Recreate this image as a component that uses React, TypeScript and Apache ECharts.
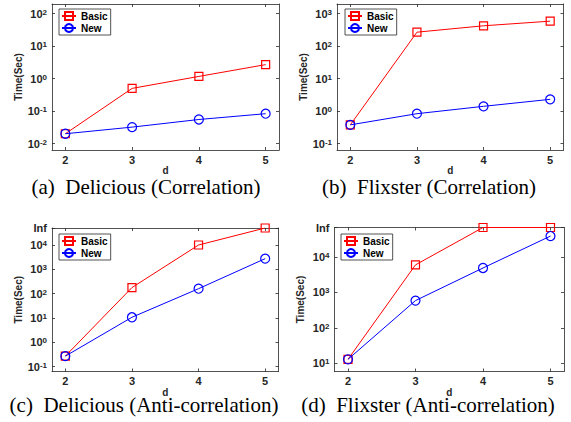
import React, { useEffect, useRef } from "react";
import * as echarts from "echarts";

// ---- data ----
const dValues = [2, 3, 4, 5];

const deliciousCorrBasic = [0.02, 0.5, 1.17, 2.7];
const deliciousCorrNew = [0.02, 0.032, 0.055, 0.083];

const flixsterCorrBasic = [0.376, 270, 425, 590];
const flixsterCorrNew = [0.376, 0.83, 1.4, 2.3];

// "Inf" is drawn at the top of the axis (placeholder value)
const INF_DELICIOUS = 50000;
const INF_FLIXSTER = 68000;

const deliciousAntiBasic = [0.27, 178, 10000, INF_DELICIOUS];
const deliciousAntiNew = [0.27, 10.7, 160, 2750];

const flixsterAntiBasic = [13, 6000, INF_FLIXSTER, INF_FLIXSTER];
const flixsterAntiNew = [13, 590, 4900, 39000];

const exponentsA = [-2, -1, 0, 1, 2];
const exponentsB = [-1, 0, 1, 2, 3];
const exponentsC = [-1, 0, 1, 2, 3, 4];
const exponentsD = [1, 2, 3, 4];

const captions = [
  "(a)\u2002Delicious (Correlation)",
  "(b)\u2002Flixster (Correlation)",
  "(c)\u2002Delicious (Anti-correlation)",
  "(d)\u2002Flixster (Anti-correlation)",
];

const seriesNames = ["Basic", "New"];
const xName = "d";
const yName = "Time(Sec)";

const RED = "#ff0000";
const BLUE = "#0000ff";
const AXIS = "#262626";
const SANS = "Liberation Sans";
const SERIF = "Liberation Serif";

type Panel = {
  basic: number[];
  fresh: number[];
  exps: number[];
  inf: number | null;
  yMin: number;
  yMax: number;
  grid: { left: number; top: number; width: number; height: number };
  legend: { left: number; top: number };
  caption: string;
  capX: number;
  capY: number;
  capSpacing: number;
};

const panels: Panel[] = [
  {
    basic: deliciousCorrBasic,
    fresh: deliciousCorrNew,
    exps: exponentsA,
    inf: null,
    yMin: -2.2,
    yMax: 2.3,
    grid: { left: 52, top: 4, width: 227, height: 146 },
    legend: { left: 59, top: 9 },
    caption: captions[0],
    capX: 146,
    capY: 187,
    capSpacing: 0,
  },
  {
    basic: flixsterCorrBasic,
    fresh: flixsterCorrNew,
    exps: exponentsB,
    inf: null,
    yMin: -1.2,
    yMax: 3.3,
    grid: { left: 337, top: 4, width: 226.5, height: 146 },
    legend: { left: 345, top: 9 },
    caption: captions[1],
    capX: 429,
    capY: 187,
    capSpacing: 0.5,
  },
  {
    basic: deliciousAntiBasic,
    fresh: deliciousAntiNew,
    exps: exponentsC,
    inf: INF_DELICIOUS,
    yMin: -1.2,
    yMax: Math.log10(INF_DELICIOUS),
    grid: { left: 52, top: 228, width: 226.5, height: 143.5 },
    legend: { left: 59, top: 234 },
    caption: captions[2],
    capX: 144,
    capY: 404.5,
    capSpacing: 0.2,
  },
  {
    basic: flixsterAntiBasic,
    fresh: flixsterAntiNew,
    exps: exponentsD,
    inf: INF_FLIXSTER,
    yMin: 0.77,
    yMax: Math.log10(INF_FLIXSTER),
    grid: { left: 334.5, top: 227.5, width: 229.5, height: 144 },
    legend: { left: 341, top: 234 },
    caption: captions[3],
    capX: 428,
    capY: 404.5,
    capSpacing: 0.35,
  },
];

function buildOption() {
  const grid: any[] = [];
  const xAxis: any[] = [];
  const yAxis: any[] = [];
  const series: any[] = [];
  const legend: any[] = [];
  const graphic: any[] = [];

  const xTicks = dValues;

  panels.forEach((p, i) => {
    grid.push({ ...p.grid, containLabel: false });
    const infLog = p.inf !== null ? Math.log10(p.inf) : null;
    const yTicks = infLog !== null ? [...p.exps, infLog] : p.exps;

    const baseX = {
      type: "value",
      gridIndex: i,
      min: 1.8,
      max: 5.2,
      splitLine: { show: false },
      axisLine: { show: true, onZero: false, lineStyle: { color: AXIS, width: 0.8 } },
      axisTick: {
        show: true,
        inside: true,
        length: 3,
        customValues: xTicks,
        lineStyle: { color: AXIS, width: 0.8 },
      },
    };
    xAxis.push({
      ...baseX,
      position: "bottom",
      name: xName,
      nameLocation: "middle",
      nameGap: 15,
      nameTextStyle: { fontFamily: SANS, fontWeight: "bold", fontSize: 10, color: AXIS },
      axisLabel: {
        show: true,
        customValues: xTicks,
        margin: 4,
        fontFamily: SANS,
        fontWeight: "bold",
        fontSize: 11,
        color: AXIS,
      },
    });
    xAxis.push({ ...baseX, position: "top", axisLabel: { show: false } });

    const baseY = {
      type: "value",
      gridIndex: i,
      min: p.yMin,
      max: p.yMax,
      splitLine: { show: false },
      axisLine: { show: true, onZero: false, lineStyle: { color: AXIS, width: 0.8 } },
      axisTick: {
        show: true,
        inside: true,
        length: 3,
        customValues: yTicks,
        lineStyle: { color: AXIS, width: 0.8 },
      },
    };
    yAxis.push({
      ...baseY,
      position: "left",
      name: yName,
      nameLocation: "middle",
      nameGap: 29,
      nameTextStyle: { fontFamily: SANS, fontWeight: "bold", fontSize: 10, color: AXIS },
      axisLabel: {
        show: true,
        customValues: yTicks,
        margin: 5,
        formatter: (v: number) => {
          if (infLog !== null && Math.abs(v - infLog) < 1e-6) return "{b|Inf}";
          return "{b|10}{s|" + Math.round(v) + "}";
        },
        rich: {
          b: {
            fontFamily: SANS,
            fontWeight: "bold",
            fontSize: 11,
            color: AXIS,
            lineHeight: 11,
            verticalAlign: "bottom",
          },
          s: {
            fontFamily: SANS,
            fontWeight: "bold",
            fontSize: 8,
            color: AXIS,
            lineHeight: 8,
            verticalAlign: "top",
            padding: [0, 0, 5, 0],
          },
        },
      },
    });
    yAxis.push({ ...baseY, position: "right", axisLabel: { show: false } });

    const xIdx = i * 2;
    const yIdx = i * 2;
    series.push({
      name: seriesNames[0],
      type: "line",
      xAxisIndex: xIdx,
      yAxisIndex: yIdx,
      data: dValues.map((d, k) => [d, Math.log10(p.basic[k])]),
      symbol: "rect",
      symbolSize: 8,
      lineStyle: { color: RED, width: 1 },
      itemStyle: { color: "rgba(0,0,0,0)", borderColor: RED, borderWidth: 1.2 },
      emphasis: { disabled: true },
      z: 2,
    });
    series.push({
      name: seriesNames[1],
      type: "line",
      xAxisIndex: xIdx,
      yAxisIndex: yIdx,
      data: dValues.map((d, k) => [d, Math.log10(p.fresh[k])]),
      symbol: "circle",
      symbolSize: 9,
      lineStyle: { color: BLUE, width: 1 },
      itemStyle: { color: "rgba(0,0,0,0)", borderColor: BLUE, borderWidth: 1.2 },
      emphasis: { disabled: true },
      z: 3,
    });

    legend.push({
      data: seriesNames,
      orient: "vertical",
      left: p.legend.left,
      top: p.legend.top,
      padding: [2, 3, 2, 2],
      itemGap: 2,
      itemWidth: 14,
      itemHeight: 10,
      backgroundColor: "#ffffff",
      borderColor: AXIS,
      borderWidth: 0.8,
      borderRadius: 0,
      selectedMode: false,
      textStyle: { fontFamily: SANS, fontWeight: "bold", fontSize: 10, color: "#000" },
    });

    graphic.push({
      type: "text",
      x: p.capX,
      y: p.capY,
      style: {
        text: p.caption,
        fontFamily: SERIF,
        fontSize: 21,
        fill: "#000",
        align: "center",
        verticalAlign: "middle",
      },
    });
  });

  return {
    animation: false,
    backgroundColor: "#ffffff",
    grid,
    xAxis,
    yAxis,
    series,
    legend,
    graphic,
  };
}

export default function App() {
  const ref = useRef<HTMLDivElement>(null);
  useEffect(() => {
    if (!ref.current) return;
    const chart = echarts.init(ref.current, undefined, { renderer: "svg" });
    chart.setOption(buildOption() as any);
    return () => chart.dispose();
  }, []);
  return (
    <div
      ref={ref}
      style={{ position: "absolute", left: 0, top: 0, width: 571, height: 422, background: "#fff" }}
    />
  );
}
